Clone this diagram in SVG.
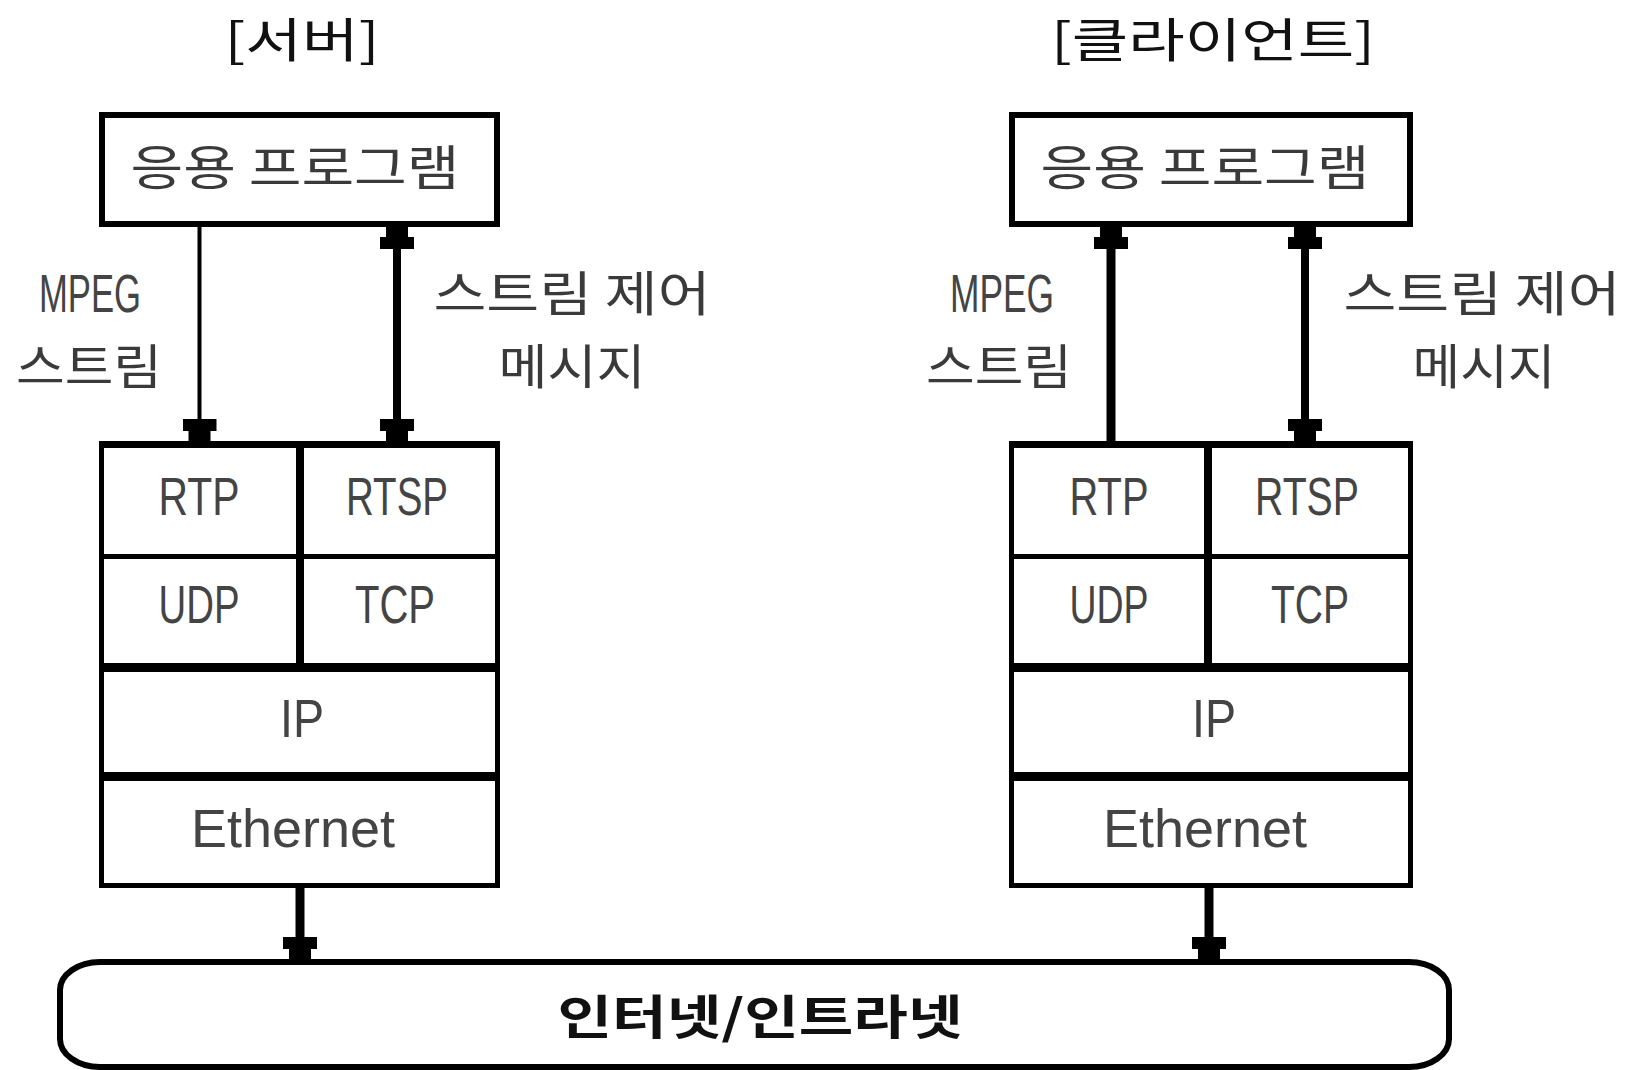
<svg xmlns="http://www.w3.org/2000/svg" width="1640" height="1070" viewBox="0 0 1640 1070">
  <defs>
    <style>
      .box { fill: #fff; stroke: #000; }
      .div { stroke: #000; fill: none; }
      .ko { font-family: "Noto Sans CJK KR", "Noto Sans", sans-serif; fill: #3a3a3a; text-anchor: middle; }
      .ko-title { font-family: "Noto Sans CJK KR", "Noto Sans", sans-serif; fill: #111; text-anchor: middle; font-size: 47px; }
      .lat { font-family: "Liberation Sans", Arial, sans-serif; fill: #444; text-anchor: middle; font-size: 54px; }
      .conn { stroke: #000; fill: none; }
    </style>
    <!-- stepped arrowhead, sized in user units so thin and thick shafts share it -->
    <marker id="head" viewBox="0 0 22 34" refX="22" refY="17" markerWidth="22" markerHeight="34"
            markerUnits="userSpaceOnUse" orient="auto-start-reverse">
      <path d="M0,0 H12 V6 H22 V28 H12 V34 H0 Z" fill="#000"/>
    </marker>
  </defs>

  <rect width="1640" height="1070" fill="#fff"/>

  <!-- headings -->
  <text class="ko-title" x="302" y="57" textLength="155" lengthAdjust="spacingAndGlyphs">[서버]</text>
  <text class="ko-title" x="1213" y="57" textLength="324" lengthAdjust="spacingAndGlyphs">[클라이언트]</text>

  <!-- server application -->
  <g id="server-app">
    <rect class="box" x="102" y="115" width="395" height="109" stroke-width="6"/>
    <text class="ko" x="295" y="185" font-size="48" textLength="329" lengthAdjust="spacingAndGlyphs">응용 프로그램</text>
  </g>

  <!-- client application -->
  <g id="client-app">
    <rect class="box" x="1012" y="115" width="398" height="109" stroke-width="6"/>
    <text class="ko" x="1205" y="185" font-size="48" textLength="329" lengthAdjust="spacingAndGlyphs">응용 프로그램</text>
  </g>

  <!-- server protocol stack -->
  <g id="server-stack">
    <rect class="box" x="101.5" y="444" width="396" height="441.5" stroke-width="5"/>
    <line class="div" x1="99" y1="444.5" x2="500" y2="444.5" stroke-width="7"/>
    <line class="div" x1="99" y1="556.5" x2="500" y2="556.5" stroke-width="5"/>
    <line class="div" x1="99" y1="667.5" x2="500" y2="667.5" stroke-width="9"/>
    <line class="div" x1="99" y1="776.5" x2="500" y2="776.5" stroke-width="9"/>
    <line class="div" x1="300" y1="444" x2="300" y2="667" stroke-width="8"/>
    <text class="lat" x="199" y="515" textLength="81" lengthAdjust="spacingAndGlyphs">RTP</text>
    <text class="lat" x="397" y="515" textLength="102" lengthAdjust="spacingAndGlyphs">RTSP</text>
    <text class="lat" x="199" y="623" textLength="81" lengthAdjust="spacingAndGlyphs">UDP</text>
    <text class="lat" x="395" y="623" textLength="80" lengthAdjust="spacingAndGlyphs">TCP</text>
    <text class="lat" x="302" y="737" textLength="44" lengthAdjust="spacingAndGlyphs">IP</text>
    <text class="lat" x="293" y="847" textLength="204" lengthAdjust="spacingAndGlyphs">Ethernet</text>
  </g>

  <!-- client protocol stack -->
  <g id="client-stack">
    <rect class="box" x="1011.5" y="444" width="399" height="441.5" stroke-width="5"/>
    <line class="div" x1="1009" y1="444.5" x2="1413" y2="444.5" stroke-width="7"/>
    <line class="div" x1="1009" y1="556.5" x2="1413" y2="556.5" stroke-width="5"/>
    <line class="div" x1="1009" y1="667.5" x2="1413" y2="667.5" stroke-width="9"/>
    <line class="div" x1="1009" y1="776.5" x2="1413" y2="776.5" stroke-width="9"/>
    <line class="div" x1="1208" y1="444" x2="1208" y2="667" stroke-width="8"/>
    <text class="lat" x="1109" y="515" textLength="79" lengthAdjust="spacingAndGlyphs">RTP</text>
    <text class="lat" x="1307" y="515" textLength="104" lengthAdjust="spacingAndGlyphs">RTSP</text>
    <text class="lat" x="1109" y="623" textLength="79" lengthAdjust="spacingAndGlyphs">UDP</text>
    <text class="lat" x="1310" y="623" textLength="78" lengthAdjust="spacingAndGlyphs">TCP</text>
    <text class="lat" x="1214" y="737" textLength="44" lengthAdjust="spacingAndGlyphs">IP</text>
    <text class="lat" x="1205" y="847" textLength="204" lengthAdjust="spacingAndGlyphs">Ethernet</text>
  </g>

  <!-- shared network -->
  <g id="network">
    <path class="box" stroke-width="6"
          d="M100,962 H1409 A40,28 0 0 1 1449,990 V1039 A40,28 0 0 1 1409,1067 H100 A40,28 0 0 1 60,1039 V990 A40,28 0 0 1 100,962 Z"/>
    <text class="ko-title" x="760" y="1034" font-size="50" font-weight="700" textLength="405" lengthAdjust="spacingAndGlyphs">인터넷/인트라넷</text>
  </g>

  <!-- connectors -->
  <g id="connectors">
    <!-- server side -->
    <line class="conn" x1="199.5" y1="227" x2="199.5" y2="441" stroke-width="4" marker-end="url(#head)"/>
    <line class="conn" x1="397" y1="227" x2="397" y2="441" stroke-width="8" marker-start="url(#head)" marker-end="url(#head)"/>
    <line class="conn" x1="300" y1="888" x2="300" y2="959" stroke-width="9" marker-end="url(#head)"/>
    <!-- client side -->
    <line class="conn" x1="1111" y1="227" x2="1111" y2="441" stroke-width="9" marker-start="url(#head)"/>
    <line class="conn" x1="1305" y1="227" x2="1305" y2="441" stroke-width="8" marker-start="url(#head)" marker-end="url(#head)"/>
    <line class="conn" x1="1209" y1="888" x2="1209" y2="959" stroke-width="9" marker-end="url(#head)"/>
  </g>

  <!-- connector labels -->
  <g id="labels">
    <text class="lat" x="90" y="312" font-size="53" textLength="102" lengthAdjust="spacingAndGlyphs">MPEG</text>
    <text class="ko" x="89" y="384" font-size="48" textLength="146" lengthAdjust="spacingAndGlyphs">스트림</text>
    <text class="ko" x="572" y="311" font-size="48" textLength="277" lengthAdjust="spacingAndGlyphs">스트림 제어</text>
    <text class="ko" x="572" y="384" font-size="48" textLength="147" lengthAdjust="spacingAndGlyphs">메시지</text>
    <text class="lat" x="1002" y="312" font-size="53" textLength="104" lengthAdjust="spacingAndGlyphs">MPEG</text>
    <text class="ko" x="999" y="384" font-size="48" textLength="146" lengthAdjust="spacingAndGlyphs">스트림</text>
    <text class="ko" x="1482" y="311" font-size="48" textLength="277" lengthAdjust="spacingAndGlyphs">스트림 제어</text>
    <text class="ko" x="1484" y="384" font-size="48" textLength="143" lengthAdjust="spacingAndGlyphs">메시지</text>
  </g>
</svg>
